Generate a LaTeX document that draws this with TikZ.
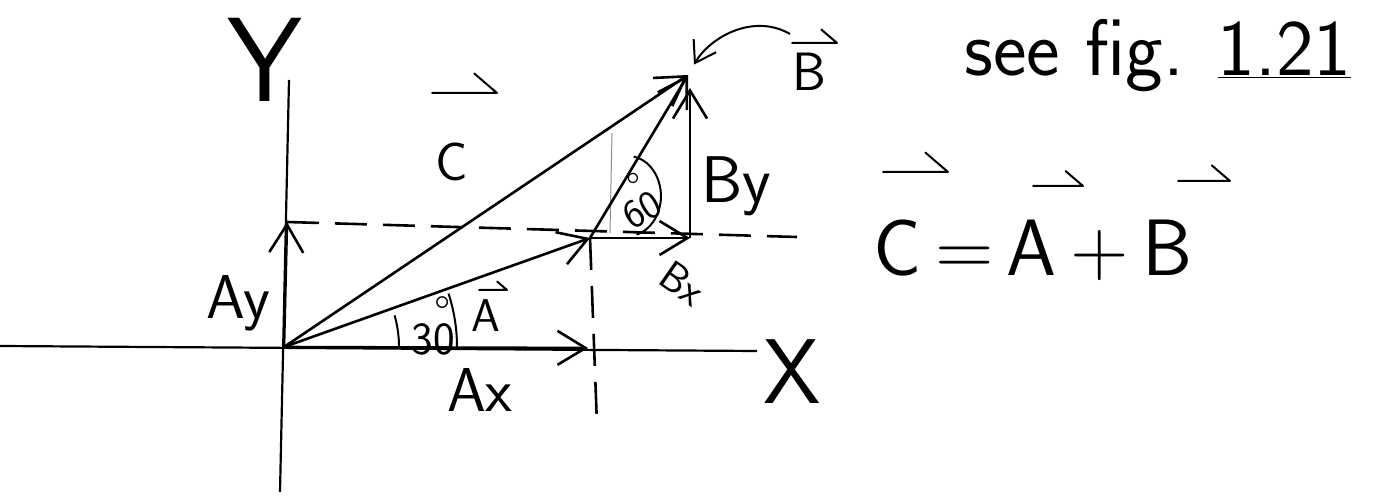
\documentclass[tikz,border=0pt]{standalone}
\usetikzlibrary{arrows.meta,positioning}
\newcommand\handsize[1]{\fontsize{#1}{#1}\selectfont}
\newcommand\degtop[1]{#1\llap{\raisebox{0.55em}{\textdegree}\kern0.08em}}
% harpoon over a label: anchor, shift x, shift y, length
\newcommand\harp[4]{\draw[harpoon] ([shift={(#2,#3)}]#1) -- ++(#4,0) -- ++({-0.35*#4},{0.3*#4});}

\begin{document}
\begin{tikzpicture}[x=1pt, y=1pt, >={Straight Barb[length=28pt,width=34pt]}, font=\sffamily,
  axis/.style={line width=2.2pt},
  vec/.style={line width=2.6pt, ->},
  guide/.style={line width=2.6pt, dash pattern=on 32pt off 16pt},
  anglearc/.style={line width=2pt},
  harpoon/.style={line width=2pt, line cap=round, line join=round},
  lab/.style={inner sep=0pt}]
\useasboundingbox (0,0) rectangle (1398,496);
% points of the figure
\coordinate (O) at (284,149);
\coordinate (yt) at (289,416);
\coordinate (yb) at (280,4);
\coordinate (xl) at (0,150);
\coordinate (xr) at (757,145);
\coordinate (A) at (590,258);
\coordinate (C) at (688,421);
\coordinate (ay) at (287,274);
\coordinate (ax) at (588,148);
\coordinate (bx) at (690,258);
\coordinate (by) at (690,408);
\coordinate (dend) at (797,259);
\coordinate (vd) at (597,71);
\coordinate (ft) at (612,363);
\coordinate (fb) at (610,263);
\coordinate (bc) at (790,462);
% axes and components
\draw[axis] (xl) -- (xr);
\draw[axis] (yb) -- (yt);
\draw[guide] (ay) -- (dend);
\draw[guide] (A) -- (vd);
\draw[line width=1pt, black!45] (fb) -- (ft);
\draw[vec] (O) -- (ay);
\draw[vec] (O) -- (ax);
\draw[vec] (A) -- (bx);
\draw[vec] (bx) -- (by);
% vectors
\draw[vec] (O) -- (A);
\draw[vec] (O) -- (C);
\draw[vec] (A) -- (C);
% angles
\draw[anglearc] ([shift={(0:115)}]O) arc[start angle=0, end angle=16, radius=115];
\draw[anglearc] ([shift={(0:173)}]O) arc[start angle=0, end angle=18, radius=173];
\draw[anglearc] ([shift={(46.5,3.4)}]A) arc[start angle=-75, end angle=80, x radius=33, y radius=40];
% labels
\node[lab, font=\sffamily\handsize{120}] (Ylab) at (265,436) {Y};
\node[lab, font=\sffamily\handsize{92}] (Xlab) at (792,124) {X};
\node[lab, font=\sffamily\handsize{54}] (Clab) at (452,334) {C};
\harp{Clab.center}{-20}{69}{65}
\node[lab, font=\sffamily\handsize{62}] (Aylab) at (238,193) {Ay};
\node[lab, font=\sffamily\handsize{62}] (Axlab) at (480,106) {Ax};
\node[lab, font=\sffamily\handsize{46}] (a30) at (433,170) {\degtop{30}};
\node[lab, font=\sffamily\handsize{46}] (Alab) at (486,180) {A};
\harp{Alab.center}{-7}{26}{28}
\node[lab, font=\sffamily\handsize{40}, rotate=30] (a60) at (636,296) {\degtop{60}};
\node[lab, font=\sffamily\handsize{66}] (Bylab) at (736,310) {By};
\node[lab, font=\sffamily\handsize{42}, rotate=-35] (Bxlab) at (683,213) {Bx};
\node[lab, font=\sffamily\handsize{54}] (Blab) at (809,424) {B};
\harp{Blab.center}{-17}{29}{45}
\draw[line width=2pt, ->, >={Straight Barb[length=20pt,width=26pt]}, shorten >=12pt]
  (bc) to[out=150, in=60] (C);
% side notes
\node[lab, font=\sffamily\handsize{80}] (seefig) at (1158,440) {see fig. \underline{1.21}};
\node[lab, font=\sffamily\handsize{80}] (eqn) at (1033,246) {C\,=\,A\,+\,B};
\harp{eqn.center}{-150}{78}{65}
\harp{eqn.center}{0}{64}{50}
\harp{eqn.center}{145}{69}{52}
\end{tikzpicture}
\end{document}
